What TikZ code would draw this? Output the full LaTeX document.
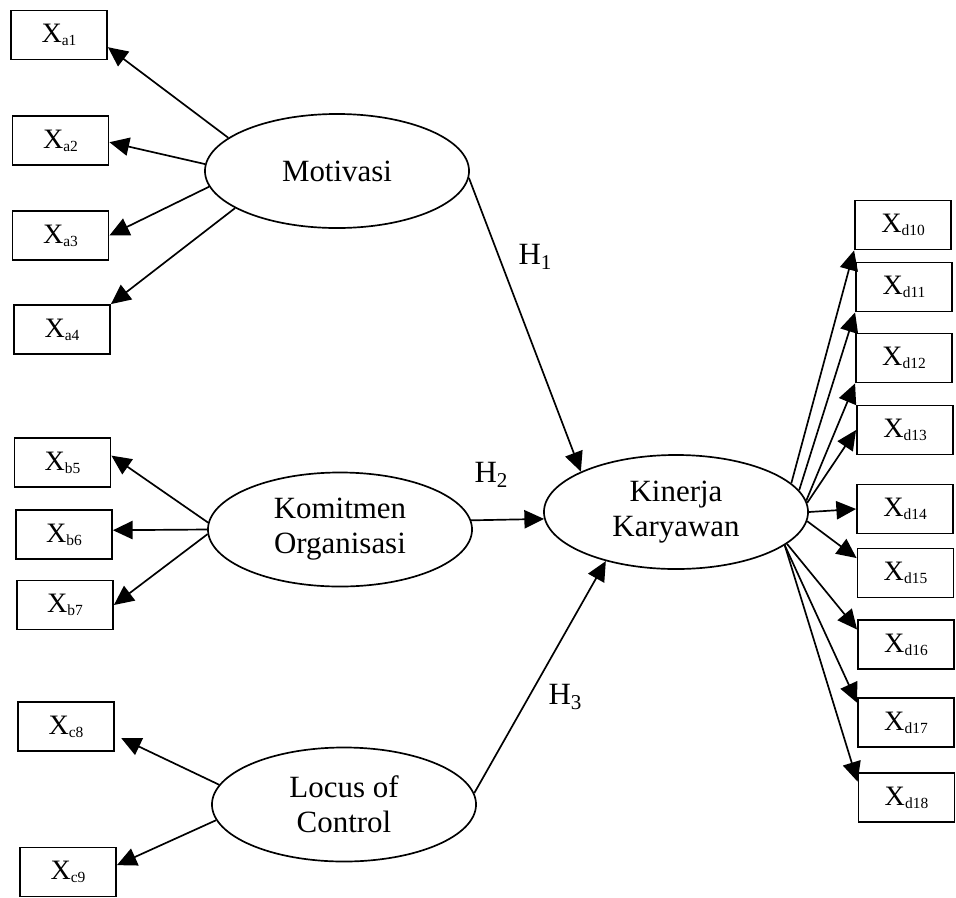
\documentclass[tikz,border=0pt]{standalone}
\usepackage{fontspec}
\setmainfont{Liberation Serif}
\usetikzlibrary{shapes.geometric,arrows.meta}

\newcommand{\xind}[1]{X\raisebox{-0.25ex}{\fontsize{11}{11}\selectfont #1}}
\newcommand{\hyp}[1]{H\raisebox{-0.35ex}{\fontsize{15}{15}\selectfont #1}}

\begin{document}
\begin{tikzpicture}[x=0.025cm,y=-0.025cm,
  latent/.style={ellipse,draw,line width=1.2pt,minimum width=6.6cm,minimum height=2.85cm,inner sep=0pt,align=center,font=\fontsize{22}{25}\selectfont},
  indicator/.style={rectangle,draw,line width=1.3pt,minimum width=2.4cm,minimum height=1.225cm,inner sep=0pt,font=\fontsize{20}{22}\selectfont},
  arr/.style={line width=1.2pt,-{Triangle[length=14pt,width=13pt]}},
  hlabel/.style={font=\fontsize{22}{25}\selectfont}]
\useasboundingbox (0,0) rectangle (956,897);

% Latent variables
\node[latent] (mot) at (337,171) {Motivasi};
\node[latent] (kom) at (340,529.5) {Komitmen\\Organisasi};
\node[latent] (loc) at (344,804.5) {Locus of\\Control};
\node[latent] (kin) at (676,512) {Kinerja\\Karyawan};

% Indicator boxes on the left
\foreach \name/\lab/\x/\y in {xa1/a1/59/35, xa2/a2/60.5/140.5, xa3/a3/60.5/235.5, xa4/a4/62/329.5,
    xb5/b5/62.5/462.5, xb6/b6/64/534.5, xb7/b7/65/605, xc8/c8/66/726.5, xc9/c9/68/872}
  \node[indicator] (\name) at (\x,\y) {\xind{\lab}};

% Indicator boxes on the right
\foreach \name/\lab/\x/\y in {xd10/d10/903/225, xd11/d11/904/287, xd12/d12/904/358, xd13/d13/905/430,
    xd14/d14/905/509, xd15/d15/905.5/573, xd16/d16/906/644.5, xd17/d17/906/722.5, xd18/d18/906.5/797.5}
  \node[indicator] (\name) at (\x,\y) {\xind{\lab}};

% Loadings from each latent variable to its indicators
\foreach \from/\a/\to/\b in {mot/163/xa1/-14, mot/177/xa2/-2, mot/187/xa3/0, mot/200/xa4/north east,
    kom/177/xb5/8, kom/180/xb6/5, kom/182/xb7/0, loc/187/xc9/8,
    kin/14/xd10/south west, kin/10/xd11/south west, kin/5/xd12/south west, kin/4/xd13/180,
    kin/0/xd14/180, kin/-4/xd15/163, kin/-16/xd16/163, kin/-17/xd17/158, kin/-17/xd18/162}
  \draw[arr] (\from.\a) -- (\to.\b);
\draw[arr,shorten >=5pt] (loc.171) -- (xc8.-10);

% Hypothesised paths
\draw[arr] (mot.-3) -- (kin.157);
\draw[arr] (kom.4) -- (kin.183);
\draw[arr] (loc.5) -- (kin.215);
\node[hlabel] (h1) at (535,257) {\hyp{1}};
\node[hlabel] (h2) at (491,475) {\hyp{2}};
\node[hlabel] (h3) at (565,697) {\hyp{3}};

\end{tikzpicture}
\end{document}
